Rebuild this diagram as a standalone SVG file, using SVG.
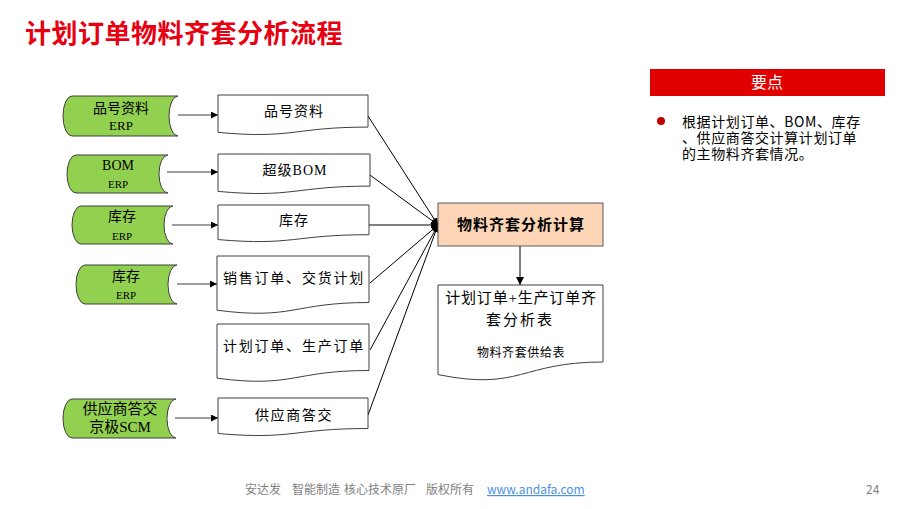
<svg xmlns="http://www.w3.org/2000/svg" width="907" height="509" viewBox="0 0 907 509">
<defs>
<marker id="ah" viewBox="0 0 10 10" refX="10" refY="5" markerWidth="7" markerHeight="7" markerUnits="userSpaceOnUse" orient="auto"><path d="M0,0 L10,5 L0,10 Z" fill="#000"/></marker>
<marker id="ah2" viewBox="0 0 10 10" refX="10" refY="5" markerWidth="8" markerHeight="8" markerUnits="userSpaceOnUse" orient="auto"><path d="M0,0 L10,5 L0,10 Z" fill="#000"/></marker>
</defs>
<style>
.green{fill:#92D050;stroke:#3F3F3F;stroke-width:1}
.doc{fill:#FFFFFF;stroke:#404040;stroke-width:1}
.calc{fill:#FBD5B5;stroke:#595959;stroke-width:1}
.t{font-family:"Liberation Serif","Noto Sans CJK SC",serif;fill:#000;text-anchor:middle}
.c{stroke:#000;stroke-width:1;fill:none}
.g{stroke:#404040;stroke-width:1.2;fill:none}
</style>
<rect width="907" height="509" fill="#FFFFFF"/>
<text x="25" y="43" font-family="'Noto Sans CJK SC',sans-serif" font-size="26" font-weight="bold" letter-spacing="0.5" fill="#E60012">计划订单物料齐套分析流程</text>

<g id="connectors">
<line class="g" x1="178" y1="115" x2="218" y2="115" marker-end="url(#ah)"/>
<line class="g" x1="167" y1="172" x2="218" y2="172" marker-end="url(#ah)"/>
<line class="g" x1="172" y1="225" x2="218" y2="225" marker-end="url(#ah)"/>
<line class="g" x1="177" y1="284" x2="217" y2="284" marker-end="url(#ah)"/>
<line class="g" x1="175" y1="418" x2="218" y2="418" marker-end="url(#ah)"/>
<line class="c" x1="368" y1="116" x2="438" y2="225" marker-end="url(#ah)"/>
<line class="c" x1="370" y1="175" x2="438" y2="225" marker-end="url(#ah)"/>
<line class="c" x1="369" y1="225" x2="438" y2="225" marker-end="url(#ah)"/>
<line class="c" x1="370" y1="283" x2="438" y2="225" marker-end="url(#ah)"/>
<line class="c" x1="370" y1="350" x2="438" y2="225" marker-end="url(#ah)"/>
<line class="c" x1="368" y1="415" x2="438" y2="225" marker-end="url(#ah)"/>
<line class="c" x1="520" y1="246" x2="520" y2="285" marker-end="url(#ah2)"/>
</g>

<g id="src1"><path class="green" d="M72,96 L178,96 A9,20 0 0 0 178,136 L72,136 A9,20 0 0 1 72,96 Z"/>
<text class="t" x="121" y="113" font-size="14">品号资料</text><text class="t" x="121" y="130" font-size="13">ERP</text></g>
<g id="src2"><path class="green" d="M76,155 L168,155 A9,19 0 0 0 168,193 L76,193 A9,19 0 0 1 76,155 Z"/>
<text class="t" x="118" y="170" font-size="14">BOM</text><text class="t" x="118" y="188" font-size="11">ERP</text></g>
<g id="src3"><path class="green" d="M81,206 L173,206 A9,19 0 0 0 173,244 L81,244 A9,19 0 0 1 81,206 Z"/>
<text class="t" x="122" y="221" font-size="14">库存</text><text class="t" x="122" y="240" font-size="11">ERP</text></g>
<g id="src4"><path class="green" d="M85,265 L177,265 A9,19.5 0 0 0 177,304 L85,304 A9,19.5 0 0 1 85,265 Z"/>
<text class="t" x="126" y="281" font-size="14">库存</text><text class="t" x="126" y="299" font-size="11">ERP</text></g>
<g id="src5"><path class="green" d="M72,399 L176,399 A9,19.5 0 0 0 176,438 L72,438 A9,19.5 0 0 1 72,399 Z"/>
<text class="t" x="120" y="414" font-size="15">供应商答交</text><text class="t" x="120" y="432" font-size="15">京极SCM</text></g>

<g id="doc1"><path class="doc" d="M218,95 L368,95 L368,127.1 C293,127.1 293,139.3 218,132.4 Z"/>
<text class="t" x="294" y="116" font-size="14" letter-spacing="1">品号资料</text></g>
<g id="doc2"><path class="doc" d="M218,154 L370,154 L370,186.1 C294,186.1 294,198.3 218,191.4 Z"/>
<text class="t" x="295" y="175" font-size="14" letter-spacing="1">超级BOM</text></g>
<g id="doc3"><path class="doc" d="M218,205 L369,205 L369,234.7 C293.5,234.7 293.5,246 218,239.6 Z"/>
<text class="t" x="294" y="225" font-size="14" letter-spacing="1">库存</text></g>
<g id="doc4"><path class="doc" d="M217,256 L369,256 L369,302.5 C293,302.5 293,320.2 217,310.2 Z"/>
<text class="t" x="294" y="283" font-size="14" letter-spacing="1.8">销售订单、交货计划</text></g>
<g id="doc5"><path class="doc" d="M217,324 L369,324 L369,370.5 C293,370.5 293,388.2 217,378.2 Z"/>
<text class="t" x="294" y="351" font-size="14" letter-spacing="1.8">计划订单、生产订单</text></g>
<g id="doc6"><path class="doc" d="M218,398 L368,398 L368,428.5 C293,428.5 293,440.1 218,433.5 Z"/>
<text class="t" x="294" y="420" font-size="14" letter-spacing="1.6">供应商答交</text></g>

<g id="calc"><rect class="calc" x="438" y="203" width="165" height="43"/>
<text class="t" x="521" y="230" font-size="15" font-weight="bold" letter-spacing="1">物料齐套分析计算</text></g>

<g id="out"><path class="doc" d="M438,285 L603,285 L603,362 C520.5,362 520.5,391.3 438,374.6 Z"/>
<text class="t" x="521" y="303" font-size="15" letter-spacing="0.8">计划订单+生产订单齐</text>
<text class="t" x="520" y="325" font-size="15" letter-spacing="2">套分析表</text>
<text class="t" x="521" y="357" font-size="12" letter-spacing="0.6">物料齐套供给表</text></g>

<g id="keypoints">
<rect x="650" y="69" width="235" height="27" fill="#E00000"/>
<text x="767" y="88" font-family="'Noto Sans CJK SC',sans-serif" font-size="16" fill="#FFFFFF" text-anchor="middle">要点</text>
<circle cx="661" cy="121" r="4" fill="#C00000"/>
<g font-family="'Noto Sans CJK SC',sans-serif" font-size="14" letter-spacing="0.6" fill="#000">
<text x="682" y="127">根据计划订单、BOM、库存</text>
<text x="682" y="143">、供应商答交计算计划订单</text>
<text x="682" y="159">的主物料齐套情况。</text>
</g>
</g>

<g id="footer" font-family="'Noto Sans CJK SC',sans-serif" font-size="12" fill="#7F7F7F">
<text x="245" y="494">安达发</text>
<text x="292" y="494">智能制造</text>
<text x="344" y="494">核心技术原厂</text>
<text x="426" y="494">版权所有</text>
<text x="487" y="494" fill="#4A90E2" text-decoration="underline">www.andafa.com</text>
<text x="866" y="494">24</text>
</g>
</svg>
